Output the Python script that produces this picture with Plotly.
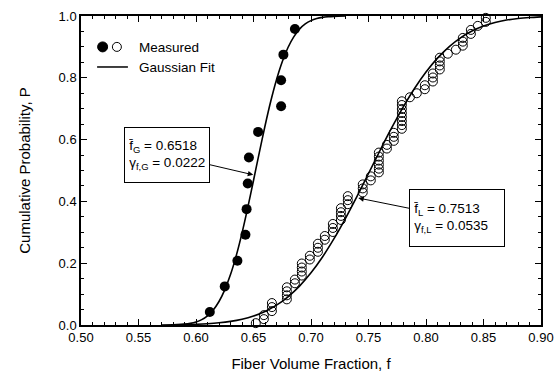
import plotly.graph_objects as go

# ---------------- data ----------------
x_ticks = [0.50, 0.55, 0.60, 0.65, 0.70, 0.75, 0.80, 0.85, 0.90]
y_ticks = [0.0, 0.2, 0.4, 0.6, 0.8, 1.0]

# Measured, filled circles
filled_x = [0.612, 0.625, 0.636, 0.643, 0.644, 0.645, 0.646, 0.654, 0.674, 0.674, 0.676, 0.686]
filled_p = [0.042, 0.125, 0.208, 0.292, 0.375, 0.458, 0.542, 0.625, 0.708, 0.792, 0.875, 0.958]

# Measured, open circles
open_x = [0.652,
          0.659, 0.659,
          0.666, 0.666, 0.666,
          0.679, 0.679, 0.679, 0.679,
          0.686, 0.686,
          0.692, 0.692, 0.692, 0.692,
          0.699, 0.699,
          0.706, 0.706, 0.706,
          0.712, 0.712,
          0.719, 0.719, 0.719,
          0.726, 0.726, 0.726, 0.726,
          0.732, 0.732, 0.732,
          0.745, 0.745, 0.745,
          0.752, 0.752,
          0.759, 0.759, 0.759, 0.759, 0.759, 0.759,
          0.766, 0.766,
          0.772, 0.772, 0.772,
          0.779, 0.779, 0.779, 0.779, 0.779, 0.779, 0.779, 0.779,
          0.786,
          0.792,
          0.799, 0.799,
          0.806, 0.806, 0.806,
          0.812, 0.812, 0.812, 0.812,
          0.819,
          0.826,
          0.832, 0.832, 0.832,
          0.839, 0.839,
          0.845,
          0.852, 0.852]
open_p = [0.006,
          0.019, 0.032,
          0.045, 0.058, 0.071,
          0.083, 0.096, 0.109, 0.122,
          0.135, 0.147,
          0.160, 0.173, 0.186, 0.199,
          0.212, 0.224,
          0.237, 0.250, 0.263,
          0.276, 0.288,
          0.301, 0.314, 0.327,
          0.340, 0.353, 0.365, 0.378,
          0.391, 0.404, 0.417,
          0.429, 0.442, 0.455,
          0.468, 0.481,
          0.494, 0.506, 0.519, 0.532, 0.545, 0.558,
          0.571, 0.583,
          0.596, 0.609, 0.622,
          0.635, 0.647, 0.660, 0.673, 0.686, 0.699, 0.712, 0.724,
          0.737,
          0.750,
          0.763, 0.776,
          0.788, 0.801, 0.814,
          0.827, 0.840, 0.853, 0.865,
          0.878,
          0.891,
          0.904, 0.917, 0.929,
          0.942, 0.955,
          0.968,
          0.981, 0.994]

# Gaussian fit curves
fit_g_x = [0.570, 0.580, 0.585, 0.590, 0.595, 0.600, 0.605, 0.610, 0.615, 0.620,
           0.625, 0.630, 0.635, 0.640, 0.645, 0.650, 0.655, 0.660, 0.665, 0.670,
           0.675, 0.680, 0.685, 0.690, 0.695, 0.700, 0.705, 0.710, 0.715, 0.720, 0.730]
fit_g_p = [0.0001, 0.0006, 0.0013, 0.0027, 0.0052, 0.0098, 0.0175, 0.0299, 0.0487, 0.0760,
           0.1137, 0.1631, 0.2246, 0.2975, 0.3797, 0.4677, 0.5573, 0.6441, 0.7240, 0.7938,
           0.8520, 0.8980, 0.9326, 0.9574, 0.9742, 0.9850, 0.9917, 0.9956, 0.9978, 0.9989, 0.9998]

fit_l_x = [0.58, 0.59, 0.60, 0.61, 0.62, 0.63, 0.64, 0.65, 0.66, 0.67, 0.68,
           0.69, 0.70, 0.71, 0.72, 0.73, 0.74, 0.75, 0.76, 0.77, 0.78, 0.79,
           0.80, 0.81, 0.82, 0.83, 0.84, 0.85, 0.86, 0.87, 0.88, 0.89, 0.90]
fit_l_p = [0.0007, 0.0013, 0.0023, 0.0041, 0.0071, 0.0117, 0.0188, 0.0292, 0.0439, 0.0643, 0.0913,
           0.1259, 0.1688, 0.2201, 0.2793, 0.3453, 0.4164, 0.4903, 0.5647, 0.6368, 0.7041, 0.7652,
           0.8186, 0.8637, 0.9004, 0.9294, 0.9513, 0.9675, 0.9789, 0.9868, 0.9919, 0.9952, 0.9973]

FONT = "Liberation Sans, Arial, sans-serif"

fig = go.Figure()
fig.add_trace(go.Scatter(x=fit_g_x, y=fit_g_p, mode="lines",
                         line=dict(color="black", width=1.6, shape="spline", smoothing=0.8),
                         showlegend=False))
fig.add_trace(go.Scatter(x=fit_l_x, y=fit_l_p, mode="lines",
                         line=dict(color="black", width=1.6, shape="spline", smoothing=0.8),
                         showlegend=False))
fig.add_trace(go.Scatter(x=open_x, y=open_p, mode="markers",
                         marker=dict(symbol="circle-open", size=9, color="black",
                                     line=dict(width=1, color="black")),
                         cliponaxis=False, showlegend=False))
fig.add_trace(go.Scatter(x=filled_x, y=filled_p, mode="markers",
                         marker=dict(symbol="circle", size=10, color="black"),
                         cliponaxis=False, showlegend=False))

axis_common = dict(showline=True, linecolor="black", linewidth=1.5, mirror="allticks",
                   ticks="inside", ticklen=6, tickwidth=1, tickcolor="black",
                   showgrid=False, zeroline=False, automargin=False,
                   tickfont=dict(family=FONT, size=13, color="black"))

fig.update_xaxes(range=[0.5, 0.9], tickvals=x_ticks, ticktext=[f"{v:.2f}" for v in x_ticks],
                 minor=dict(dtick=0.01, ticks="inside", ticklen=3, tickcolor="black", showgrid=False),
                 title=dict(text="Fiber Volume Fraction, f", font=dict(family=FONT, size=15, color="black"),
                            standoff=14),
                 **axis_common)
fig.update_yaxes(range=[0, 1], tickvals=y_ticks, ticktext=[f"{v:.1f}" for v in y_ticks],
                 minor=dict(dtick=0.05, ticks="inside", ticklen=3, tickcolor="black", showgrid=False),
                 title=dict(text="Cumulative Probability, P", font=dict(family=FONT, size=15, color="black"),
                            standoff=24),
                 **axis_common)

# legend drawn by hand
shapes = [
    dict(type="circle", xref="paper", yref="paper", xsizemode="pixel", ysizemode="pixel",
         xanchor=0.047, yanchor=0.900, x0=-5, x1=5, y0=-5, y1=5,
         fillcolor="black", line=dict(color="black", width=1)),
    dict(type="circle", xref="paper", yref="paper", xsizemode="pixel", ysizemode="pixel",
         xanchor=0.078, yanchor=0.900, x0=-4.5, x1=4.5, y0=-4.5, y1=4.5,
         fillcolor="white", line=dict(color="black", width=1)),
    dict(type="line", xref="paper", yref="paper", x0=0.035, x1=0.102, y0=0.835, y1=0.835,
         line=dict(color="black", width=1.5)),
]
fig.update_layout(shapes=shapes)

annotations = [
    dict(xref="paper", yref="paper", x=0.121, y=0.897, text="Measured", showarrow=False,
         xanchor="left", yanchor="middle", font=dict(family=FONT, size=13.5, color="black")),
    dict(xref="paper", yref="paper", x=0.121, y=0.833, text="Gaussian Fit", showarrow=False,
         xanchor="left", yanchor="middle", font=dict(family=FONT, size=13.5, color="black")),
    dict(x=0.6498, y=0.486, xref="x", yref="y",
         text="f\u0304<sub>G</sub> = 0.6518<br>γ<sub>f,G</sub> = 0.0222",
         showarrow=True, ax=-86, ay=-20, arrowhead=2, arrowsize=1.1, arrowwidth=1, arrowcolor="black",
         align="left", bordercolor="black", borderwidth=1, borderpad=4, bgcolor="white",
         width=76, height=46, font=dict(family=FONT, size=13.5, color="black")),
    dict(x=0.7411, y=0.411, xref="x", yref="y",
         text="f\u0304<sub>L</sub> = 0.7513<br>γ<sub>f,L</sub> = 0.0535",
         showarrow=True, ax=99, ay=20, arrowhead=2, arrowsize=1.1, arrowwidth=1, arrowcolor="black",
         align="left", bordercolor="black", borderwidth=1, borderpad=4, bgcolor="white",
         width=86, height=48, font=dict(family=FONT, size=13.5, color="black")),
]
fig.update_layout(annotations=annotations)

fig.update_layout(width=554, height=378, margin=dict(l=81, r=13, t=16, b=53),
                  plot_bgcolor="white", paper_bgcolor="white",
                  font=dict(family=FONT, color="black"), showlegend=False)

fig.write_html("out.html")
